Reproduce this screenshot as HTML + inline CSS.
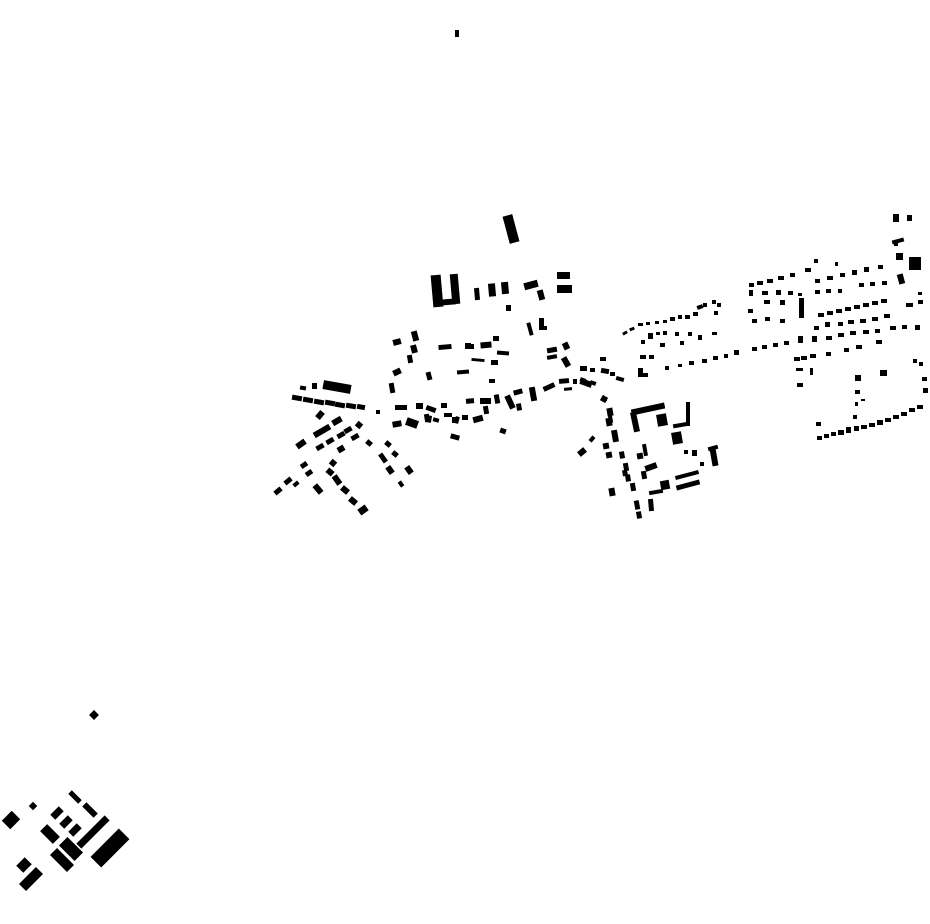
<!DOCTYPE html>
<html><head><meta charset="utf-8"><style>html,body{margin:0;padding:0;background:#fff}svg{display:block}</style></head>
<body>
<svg width="930" height="924" viewBox="0 0 930 924" xmlns="http://www.w3.org/2000/svg">
<g fill="#000">
<rect x="455" y="30" width="4" height="7"/>
<rect x="-4" y="-3" width="8" height="6" transform="translate(397,342) rotate(-15)"/>
<rect x="-3" y="-5" width="6" height="10" transform="translate(415,336) rotate(-15)"/>
<rect x="-3" y="-4" width="6" height="8" transform="translate(414,349) rotate(-15)"/>
<rect x="-2.5" y="-4" width="5" height="8" transform="translate(410,359) rotate(-10)"/>
<rect x="-6.5" y="-2.5" width="13" height="5" transform="translate(445,347) rotate(-5)"/>
<rect x="465" y="343" width="6" height="6"/>
<rect x="-4" y="-3" width="8" height="6" transform="translate(397,372) rotate(-25)"/>
<rect x="-2.5" y="-4" width="5" height="8" transform="translate(429,376) rotate(-15)"/>
<rect x="-6" y="-2" width="12" height="4" transform="translate(463,372) rotate(-5)"/>
<rect x="-2.5" y="-5" width="5" height="10" transform="translate(392,388) rotate(-10)"/>
<rect x="-14" y="-4.5" width="28" height="9" transform="translate(337,387) rotate(10)"/>
<rect x="312" y="383" width="5" height="6"/>
<rect x="-3" y="-2" width="6" height="4" transform="translate(303,388) rotate(10)"/>
<rect x="-5" y="-2.5" width="10" height="5" transform="translate(297,398) rotate(10)"/>
<rect x="-5" y="-2.5" width="10" height="5" transform="translate(308,400) rotate(10)"/>
<rect x="-5" y="-2.5" width="10" height="5" transform="translate(319,402) rotate(10)"/>
<rect x="-5" y="-2.5" width="10" height="5" transform="translate(330,403) rotate(10)"/>
<rect x="-5" y="-2.5" width="10" height="5" transform="translate(340,405) rotate(10)"/>
<rect x="-5" y="-2.5" width="10" height="5" transform="translate(351,406) rotate(10)"/>
<rect x="-4" y="-2.5" width="8" height="5" transform="translate(361,407) rotate(10)"/>
<rect x="376" y="410" width="4" height="4"/>
<rect x="395" y="405" width="12" height="5"/>
<rect x="416" y="403" width="7" height="6"/>
<rect x="-5" y="-2.5" width="10" height="5" transform="translate(431,409) rotate(20)"/>
<rect x="441" y="403" width="6" height="5"/>
<rect x="-4.5" y="-3" width="9" height="6" transform="translate(397,424) rotate(-10)"/>
<rect x="-6" y="-4" width="12" height="8" transform="translate(412,423) rotate(20)"/>
<rect x="-2.5" y="-3.5" width="5" height="7" transform="translate(429,419) rotate(10)"/>
<rect x="-3" y="-2" width="6" height="4" transform="translate(436,420) rotate(15)"/>
<rect x="444" y="413" width="8" height="4"/>
<rect x="-2" y="-3.5" width="4" height="7" transform="translate(457,420) rotate(15)"/>
<rect x="462" y="415" width="6" height="5"/>
<rect x="-4.5" y="-2.5" width="9" height="5" transform="translate(455,437) rotate(15)"/>
<rect x="-3" y="-4" width="6" height="8" transform="translate(320,415) rotate(40)"/>
<rect x="-5" y="-3" width="10" height="6" transform="translate(337,421) rotate(-30)"/>
<rect x="-9" y="-3" width="18" height="6" transform="translate(322,431) rotate(-30)"/>
<rect x="-3" y="-3" width="6" height="6" transform="translate(359,425) rotate(40)"/>
<rect x="-4" y="-2.5" width="8" height="5" transform="translate(348,430) rotate(-30)"/>
<rect x="-4" y="-2.5" width="8" height="5" transform="translate(355,437) rotate(-30)"/>
<rect x="-4" y="-2.5" width="8" height="5" transform="translate(341,435) rotate(-30)"/>
<rect x="-4" y="-2.5" width="8" height="5" transform="translate(330,441) rotate(-30)"/>
<rect x="-4" y="-2.5" width="8" height="5" transform="translate(320,447) rotate(-30)"/>
<rect x="-5" y="-3" width="10" height="6" transform="translate(301,444) rotate(-35)"/>
<rect x="-3.5" y="-3" width="7" height="6" transform="translate(341,449) rotate(-30)"/>
<rect x="-3" y="-2.5" width="6" height="5" transform="translate(369,443) rotate(40)"/>
<rect x="-3" y="-2.5" width="6" height="5" transform="translate(388,444) rotate(40)"/>
<rect x="-3" y="-2.5" width="6" height="5" transform="translate(395,454) rotate(40)"/>
<rect x="-2.5" y="-5" width="5" height="10" transform="translate(383,458) rotate(-35)"/>
<rect x="-3" y="-4" width="6" height="8" transform="translate(409,470) rotate(-35)"/>
<rect x="-3" y="-4" width="6" height="8" transform="translate(390,470) rotate(-35)"/>
<rect x="-2" y="-3" width="4" height="6" transform="translate(401,484) rotate(-35)"/>
<rect x="-3" y="-3" width="6" height="6" transform="translate(333,463) rotate(40)"/>
<rect x="-3.5" y="-3" width="7" height="6" transform="translate(330,472) rotate(40)"/>
<rect x="-3" y="-5" width="6" height="10" transform="translate(337,480) rotate(-35)"/>
<rect x="-3.5" y="-2.5" width="7" height="5" transform="translate(304,465) rotate(-35)"/>
<rect x="-3.5" y="-2.5" width="7" height="5" transform="translate(309,473) rotate(-35)"/>
<rect x="-4" y="-3" width="8" height="6" transform="translate(345,490) rotate(40)"/>
<rect x="-4" y="-3" width="8" height="6" transform="translate(353,501) rotate(40)"/>
<rect x="-4.5" y="-3.5" width="9" height="7" transform="translate(363,510) rotate(-35)"/>
<rect x="-3" y="-5" width="6" height="10" transform="translate(318,489) rotate(-40)"/>
<rect x="-3" y="-2" width="6" height="4" transform="translate(296,484) rotate(-40)"/>
<rect x="-4" y="-2.5" width="8" height="5" transform="translate(288,481) rotate(-40)"/>
<rect x="-4" y="-2.5" width="8" height="5" transform="translate(278,491) rotate(-40)"/>
<rect x="-5" y="-14" width="10" height="28" transform="translate(511,229) rotate(-15)"/>
<rect x="-5" y="-16" width="10" height="32" transform="translate(437,291) rotate(-5)"/>
<rect x="-4" y="-15" width="8" height="30" transform="translate(455,289) rotate(-5)"/>
<rect x="-8" y="-3" width="16" height="6" transform="translate(448,302) rotate(-5)"/>
<rect x="-2.5" y="-6" width="5" height="12" transform="translate(477,294) rotate(-5)"/>
<rect x="-3.5" y="-6.5" width="7" height="13" transform="translate(492,290) rotate(-5)"/>
<rect x="-3.5" y="-6" width="7" height="12" transform="translate(505,288) rotate(-5)"/>
<rect x="506" y="305" width="5" height="6"/>
<rect x="-7" y="-3.5" width="14" height="7" transform="translate(531,285) rotate(-15)"/>
<rect x="-3" y="-5" width="6" height="10" transform="translate(541,295) rotate(-15)"/>
<rect x="557" y="272" width="13" height="7"/>
<rect x="557" y="285" width="15" height="8"/>
<rect x="-2" y="-6.5" width="4" height="13" transform="translate(530,329) rotate(-15)"/>
<rect x="539" y="318" width="5" height="12"/>
<rect x="539" y="326" width="8" height="4"/>
<rect x="467" y="344" width="7" height="5"/>
<rect x="-5.5" y="-3" width="11" height="6" transform="translate(486,345) rotate(-5)"/>
<rect x="493" y="336" width="6" height="5"/>
<rect x="-6" y="-2" width="12" height="4" transform="translate(503,353) rotate(5)"/>
<rect x="-6.5" y="-1.5" width="13" height="3" transform="translate(478,360) rotate(5)"/>
<rect x="491" y="360" width="7" height="5"/>
<rect x="-5" y="-2.5" width="10" height="5" transform="translate(552,350) rotate(-10)"/>
<rect x="-5" y="-2" width="10" height="4" transform="translate(552,357) rotate(-10)"/>
<rect x="-3" y="-3.5" width="6" height="7" transform="translate(566,346) rotate(-25)"/>
<rect x="-3" y="-5" width="6" height="10" transform="translate(566,362) rotate(-30)"/>
<rect x="489" y="379" width="6" height="4"/>
<rect x="580" y="366" width="7" height="5"/>
<rect x="590" y="368" width="5" height="4"/>
<rect x="-4" y="-2.5" width="8" height="5" transform="translate(605,371) rotate(10)"/>
<rect x="600" y="357" width="6" height="4"/>
<rect x="-4" y="-2.5" width="8" height="5" transform="translate(470,401) rotate(-5)"/>
<rect x="480" y="398" width="11" height="6"/>
<rect x="-2.5" y="-4.5" width="5" height="9" transform="translate(497,399) rotate(-10)"/>
<rect x="-3" y="-7" width="6" height="14" transform="translate(510,402) rotate(-25)"/>
<rect x="-4.5" y="-2.5" width="9" height="5" transform="translate(518,392) rotate(-15)"/>
<rect x="-2.5" y="-3.5" width="5" height="7" transform="translate(519,407) rotate(-10)"/>
<rect x="-3" y="-7" width="6" height="14" transform="translate(533,394) rotate(-10)"/>
<rect x="-6" y="-2.5" width="12" height="5" transform="translate(549,387) rotate(-25)"/>
<rect x="-5" y="-2.5" width="10" height="5" transform="translate(564,381) rotate(-5)"/>
<rect x="573" y="379" width="4" height="5"/>
<rect x="-6" y="-3" width="12" height="6" transform="translate(586,383) rotate(20)"/>
<rect x="-4" y="-1.5" width="8" height="3" transform="translate(568,389) rotate(-5)"/>
<rect x="-3" y="-3" width="6" height="6" transform="translate(604,399) rotate(30)"/>
<rect x="-3" y="-4" width="6" height="8" transform="translate(610,412) rotate(-10)"/>
<rect x="-3" y="-4" width="6" height="8" transform="translate(609,422) rotate(-10)"/>
<rect x="-2.5" y="-4" width="5" height="8" transform="translate(427,418) rotate(-10)"/>
<rect x="-3" y="-3" width="6" height="6" transform="translate(455,420)"/>
<rect x="-5" y="-3" width="10" height="6" transform="translate(478,419) rotate(-15)"/>
<rect x="-2.5" y="-4" width="5" height="8" transform="translate(486,410) rotate(-10)"/>
<rect x="-3" y="-2.5" width="6" height="5" transform="translate(503,431) rotate(20)"/>
<rect x="-2.5" y="-1.5" width="5" height="3" transform="translate(625,333) rotate(-30)"/>
<rect x="-2.5" y="-1.5" width="5" height="3" transform="translate(632,329) rotate(-20)"/>
<rect x="638" y="323" width="5" height="3"/>
<rect x="646" y="322" width="4" height="3"/>
<rect x="655" y="321" width="4" height="3"/>
<rect x="663" y="320" width="4" height="3"/>
<rect x="670" y="317" width="5" height="4"/>
<rect x="678" y="315" width="4" height="4"/>
<rect x="685" y="315" width="5" height="4"/>
<rect x="693" y="312" width="5" height="4"/>
<rect x="-3" y="-2" width="6" height="4" transform="translate(700,307) rotate(-20)"/>
<rect x="703" y="303" width="4" height="4"/>
<rect x="712" y="300" width="4" height="4"/>
<rect x="714" y="311" width="4" height="4"/>
<rect x="717" y="303" width="4" height="4"/>
<rect x="641" y="340" width="4" height="4"/>
<rect x="648" y="333" width="5" height="6"/>
<rect x="656" y="332" width="4" height="3"/>
<rect x="663" y="331" width="4" height="4"/>
<rect x="675" y="332" width="4" height="4"/>
<rect x="688" y="332" width="4" height="4"/>
<rect x="698" y="335" width="4" height="5"/>
<rect x="712" y="332" width="5" height="3"/>
<rect x="660" y="343" width="5" height="4"/>
<rect x="680" y="341" width="4" height="4"/>
<rect x="640" y="355" width="6" height="4"/>
<rect x="649" y="355" width="5" height="4"/>
<rect x="665" y="366" width="4" height="4"/>
<rect x="678" y="364" width="4" height="3"/>
<rect x="689" y="361" width="5" height="4"/>
<rect x="702" y="359" width="5" height="4"/>
<rect x="713" y="356" width="5" height="4"/>
<rect x="724" y="354" width="4" height="4"/>
<rect x="734" y="350" width="5" height="5"/>
<rect x="638" y="368" width="5" height="9"/>
<rect x="638" y="373" width="10" height="4"/>
<rect x="-3" y="-2" width="6" height="4" transform="translate(583,380) rotate(20)"/>
<rect x="-3" y="-2" width="6" height="4" transform="translate(593,383) rotate(20)"/>
<rect x="-4" y="-2" width="8" height="4" transform="translate(620,379) rotate(15)"/>
<rect x="610" y="372" width="5" height="4"/>
<rect x="602" y="397" width="5" height="4"/>
<rect x="-2" y="-7" width="4" height="14" transform="translate(610,416) rotate(-10)"/>
<rect x="-3" y="-6" width="6" height="12" transform="translate(615,436) rotate(-10)"/>
<rect x="-3" y="-3" width="6" height="6" transform="translate(606,446) rotate(-10)"/>
<rect x="-3" y="-3" width="6" height="6" transform="translate(609,455) rotate(-10)"/>
<rect x="-2.5" y="-3.5" width="5" height="7" transform="translate(622,455) rotate(-10)"/>
<rect x="-2.5" y="-4" width="5" height="8" transform="translate(626,467) rotate(-10)"/>
<rect x="-2.5" y="-3.5" width="5" height="7" transform="translate(628,478) rotate(-10)"/>
<rect x="-2.5" y="-4" width="5" height="8" transform="translate(633,487) rotate(-10)"/>
<rect x="-3" y="-4" width="6" height="8" transform="translate(612,492) rotate(-10)"/>
<rect x="-2.5" y="-4.5" width="5" height="9" transform="translate(637,505) rotate(-10)"/>
<rect x="-2.5" y="-3.5" width="5" height="7" transform="translate(639,515) rotate(-10)"/>
<rect x="-2.5" y="-6" width="5" height="12" transform="translate(651,505) rotate(-5)"/>
<rect x="-17" y="-3" width="34" height="6" transform="translate(648,409) rotate(-12)"/>
<rect x="-3" y="-10" width="6" height="20" transform="translate(635,422) rotate(-12)"/>
<rect x="-5" y="-6" width="10" height="12" transform="translate(662,420) rotate(-10)"/>
<rect x="686" y="402" width="4" height="24"/>
<rect x="-8" y="-2" width="16" height="4" transform="translate(681,425) rotate(-10)"/>
<rect x="-5" y="-6" width="10" height="12" transform="translate(677,438) rotate(-10)"/>
<rect x="-4" y="-3" width="8" height="6" transform="translate(582,452) rotate(-40)"/>
<rect x="-2" y="-3" width="4" height="6" transform="translate(592,439) rotate(40)"/>
<rect x="-3" y="-3" width="6" height="6" transform="translate(640,456) rotate(-10)"/>
<rect x="-2" y="-6" width="4" height="12" transform="translate(645,450) rotate(-10)"/>
<rect x="-6" y="-3" width="12" height="6" transform="translate(651,467) rotate(-20)"/>
<rect x="-2.5" y="-4" width="5" height="8" transform="translate(644,475) rotate(-10)"/>
<rect x="-7" y="-2" width="14" height="4" transform="translate(656,492) rotate(-10)"/>
<rect x="-4.5" y="-4.5" width="9" height="9" transform="translate(665,485) rotate(-10)"/>
<rect x="-12" y="-2" width="24" height="4" transform="translate(687,475) rotate(-15)"/>
<rect x="-12" y="-2.5" width="24" height="5" transform="translate(688,485) rotate(-15)"/>
<rect x="684" y="450" width="4" height="4"/>
<rect x="692" y="450" width="5" height="6"/>
<rect x="700" y="462" width="4" height="4"/>
<rect x="-3" y="-9" width="6" height="18" transform="translate(714,457) rotate(-10)"/>
<rect x="-5" y="-2" width="10" height="4" transform="translate(713,448) rotate(-15)"/>
<rect x="-2.5" y="-3" width="5" height="6" transform="translate(625,473) rotate(-10)"/>
<rect x="893" y="214" width="6" height="8"/>
<rect x="907" y="215" width="5" height="6"/>
<rect x="-6" y="-2" width="12" height="4" transform="translate(898,241) rotate(-15)"/>
<rect x="894" y="241" width="4" height="5"/>
<rect x="896" y="253" width="7" height="7"/>
<rect x="909" y="257" width="12" height="13"/>
<rect x="-3" y="-5" width="6" height="10" transform="translate(901,279) rotate(-15)"/>
<rect x="749" y="283" width="5" height="4"/>
<rect x="757" y="281" width="6" height="4"/>
<rect x="767" y="279" width="6" height="4"/>
<rect x="778" y="276" width="6" height="4"/>
<rect x="790" y="273" width="5" height="4"/>
<rect x="805" y="268" width="6" height="4"/>
<rect x="814" y="259" width="4" height="4"/>
<rect x="762" y="291" width="6" height="4"/>
<rect x="776" y="290" width="5" height="5"/>
<rect x="788" y="291" width="5" height="4"/>
<rect x="798" y="293" width="4" height="3"/>
<rect x="749" y="290" width="4" height="6"/>
<rect x="764" y="300" width="6" height="4"/>
<rect x="780" y="300" width="5" height="5"/>
<rect x="748" y="309" width="5" height="4"/>
<rect x="799" y="298" width="5" height="20"/>
<rect x="752" y="319" width="5" height="4"/>
<rect x="765" y="317" width="5" height="4"/>
<rect x="780" y="319" width="5" height="4"/>
<rect x="815" y="279" width="5" height="4"/>
<rect x="827" y="276" width="6" height="4"/>
<rect x="840" y="273" width="5" height="4"/>
<rect x="852" y="270" width="5" height="5"/>
<rect x="864" y="267" width="5" height="5"/>
<rect x="878" y="265" width="5" height="4"/>
<rect x="835" y="262" width="3" height="4"/>
<rect x="815" y="290" width="5" height="4"/>
<rect x="826" y="289" width="5" height="4"/>
<rect x="838" y="289" width="4" height="4"/>
<rect x="859" y="283" width="5" height="4"/>
<rect x="870" y="282" width="5" height="4"/>
<rect x="882" y="281" width="5" height="4"/>
<rect x="818" y="313" width="6" height="4"/>
<rect x="827" y="311" width="6" height="4"/>
<rect x="836" y="309" width="6" height="4"/>
<rect x="845" y="307" width="6" height="4"/>
<rect x="854" y="305" width="6" height="4"/>
<rect x="863" y="303" width="6" height="4"/>
<rect x="872" y="301" width="6" height="4"/>
<rect x="881" y="299" width="6" height="4"/>
<rect x="814" y="326" width="5" height="4"/>
<rect x="825" y="322" width="5" height="5"/>
<rect x="838" y="322" width="5" height="4"/>
<rect x="848" y="320" width="6" height="4"/>
<rect x="860" y="319" width="6" height="4"/>
<rect x="872" y="317" width="6" height="4"/>
<rect x="884" y="314" width="6" height="4"/>
<rect x="906" y="303" width="7" height="4"/>
<rect x="918" y="300" width="5" height="4"/>
<rect x="918" y="292" width="4" height="3"/>
<rect x="752" y="347" width="5" height="4"/>
<rect x="762" y="345" width="5" height="4"/>
<rect x="773" y="343" width="5" height="4"/>
<rect x="784" y="341" width="5" height="4"/>
<rect x="798" y="336" width="5" height="7"/>
<rect x="812" y="336" width="5" height="6"/>
<rect x="826" y="336" width="6" height="4"/>
<rect x="838" y="333" width="6" height="4"/>
<rect x="850" y="331" width="6" height="4"/>
<rect x="863" y="330" width="6" height="4"/>
<rect x="875" y="329" width="5" height="4"/>
<rect x="890" y="326" width="6" height="4"/>
<rect x="902" y="325" width="5" height="4"/>
<rect x="915" y="325" width="5" height="5"/>
<rect x="794" y="357" width="6" height="4"/>
<rect x="801" y="356" width="6" height="4"/>
<rect x="810" y="354" width="6" height="4"/>
<rect x="826" y="352" width="5" height="4"/>
<rect x="844" y="348" width="5" height="4"/>
<rect x="856" y="345" width="6" height="4"/>
<rect x="876" y="340" width="6" height="4"/>
<rect x="796" y="368" width="7" height="3"/>
<rect x="810" y="368" width="3" height="7"/>
<rect x="797" y="383" width="6" height="4"/>
<rect x="855" y="375" width="6" height="6"/>
<rect x="880" y="370" width="7" height="6"/>
<rect x="913" y="359" width="4" height="4"/>
<rect x="919" y="362" width="4" height="4"/>
<rect x="922" y="377" width="5" height="4"/>
<rect x="923" y="388" width="5" height="5"/>
<rect x="855" y="390" width="5" height="4"/>
<rect x="855" y="402" width="3" height="4"/>
<rect x="861" y="399" width="4" height="2"/>
<rect x="853" y="415" width="4" height="4"/>
<rect x="816" y="422" width="5" height="4"/>
<rect x="817" y="436" width="5" height="4"/>
<rect x="824" y="434" width="5" height="4"/>
<rect x="831" y="432" width="5" height="4"/>
<rect x="838" y="430" width="6" height="5"/>
<rect x="846" y="427" width="5" height="6"/>
<rect x="854" y="426" width="5" height="5"/>
<rect x="861" y="425" width="6" height="4"/>
<rect x="869" y="423" width="6" height="4"/>
<rect x="877" y="420" width="6" height="5"/>
<rect x="885" y="418" width="6" height="4"/>
<rect x="893" y="415" width="6" height="4"/>
<rect x="901" y="412" width="6" height="4"/>
<rect x="909" y="408" width="6" height="4"/>
<rect x="917" y="405" width="6" height="4"/>
<rect x="-3.5" y="-3.5" width="7" height="7" transform="translate(94,715) rotate(45)"/>
<rect x="-7" y="-6" width="14" height="12" transform="translate(11,820) rotate(-45)"/>
<rect x="-3" y="-3" width="6" height="6" transform="translate(33,806) rotate(45)"/>
<rect x="-7" y="-2.5" width="14" height="5" transform="translate(75,797) rotate(45)"/>
<rect x="-8" y="-3" width="16" height="6" transform="translate(90,810) rotate(45)"/>
<rect x="-6" y="-3.5" width="12" height="7" transform="translate(57,813) rotate(-45)"/>
<rect x="-6" y="-3.5" width="12" height="7" transform="translate(66,822) rotate(-45)"/>
<rect x="-6" y="-3.5" width="12" height="7" transform="translate(75,830) rotate(-45)"/>
<rect x="-9" y="-5" width="18" height="10" transform="translate(50,834) rotate(45)"/>
<rect x="-20" y="-3.5" width="40" height="7" transform="translate(93,832) rotate(-45)"/>
<rect x="-20" y="-7.5" width="40" height="15" transform="translate(110,848) rotate(-45)"/>
<rect x="-11" y="-6" width="22" height="12" transform="translate(71,849) rotate(45)"/>
<rect x="-12" y="-5" width="24" height="10" transform="translate(62,860) rotate(45)"/>
<rect x="-6" y="-5" width="12" height="10" transform="translate(24,865) rotate(-45)"/>
<rect x="-12" y="-5" width="24" height="10" transform="translate(31,879) rotate(-45)"/>
</g>
</svg>
</body></html>
